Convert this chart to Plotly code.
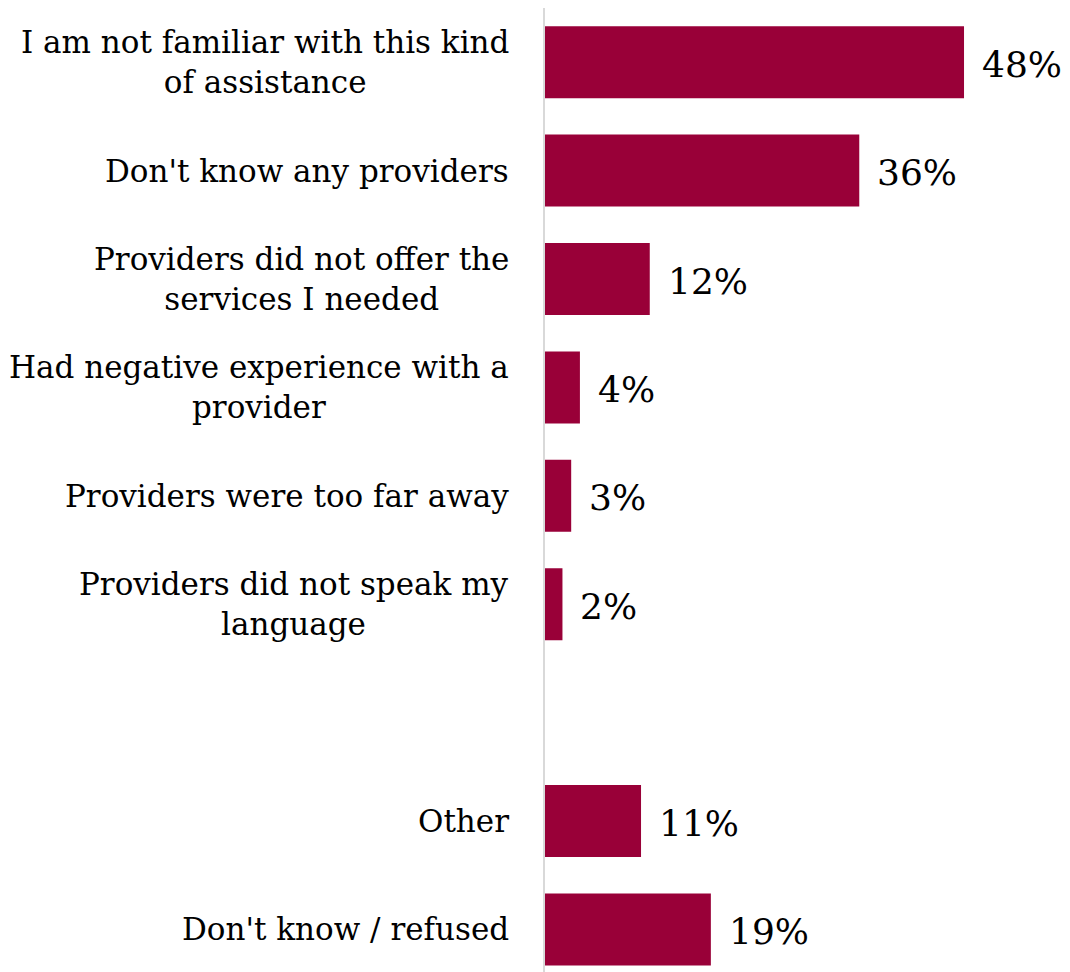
import plotly.graph_objects as go

# Reasons for not seeking assistance (share of respondents, %)
categories = [
    "I am not familiar with this kind<br>of assistance",
    "Don't know any providers",
    "Providers did not offer the<br>services I needed",
    "Had negative experience with a<br>provider",
    "Providers were too far away",
    "Providers did not speak my<br>language",
    " ",
    "Other",
    "Don't know / refused",
]
values = [48, 36, 12, 4, 3, 2, None, 11, 19]

BAR_COLOR = "#990038"
FONT = "DejaVu Serif"

fig = go.Figure(
    go.Bar(
        x=values,
        y=categories,
        orientation="h",
        marker=dict(color=BAR_COLOR, line=dict(width=0)),
        hoverinfo="skip",
    )
)

for cat, val in zip(categories, values):
    # Category label, lines centred on each other, right edge near the axis
    fig.add_annotation(
        x=0, xref="paper", y=cat, yref="y",
        text=cat, align="center",
        xanchor="right", yanchor="middle", xshift=-34,
        showarrow=False,
        font=dict(family=FONT, size=31, color="#000000"),
    )
    if val is None:
        continue
    # Value label just past the end of the bar
    fig.add_annotation(
        x=val, y=cat, text=f"{val}%",
        xanchor="left", yanchor="middle", xshift=16, yshift=-2,
        showarrow=False,
        font=dict(family=FONT, size=36, color="#000000"),
    )

fig.update_layout(
    width=1070,
    height=972,
    margin=dict(l=545, r=0, t=8, b=0),
    paper_bgcolor="white",
    plot_bgcolor="white",
    showlegend=False,
    bargap=0.336,
    font=dict(family=FONT, size=31, color="#000000"),
)

fig.update_xaxes(
    range=[0, 60.14],
    visible=False,
    showgrid=False,
    zeroline=False,
)

fig.update_yaxes(
    type="category",
    categoryorder="array",
    categoryarray=categories,
    range=[8.393, -0.5],
    showgrid=False,
    zeroline=False,
    showline=True,
    linecolor="#d9d9d9",
    linewidth=2,
    ticks="",
    showticklabels=False,
)

fig.write_html("out.html")
